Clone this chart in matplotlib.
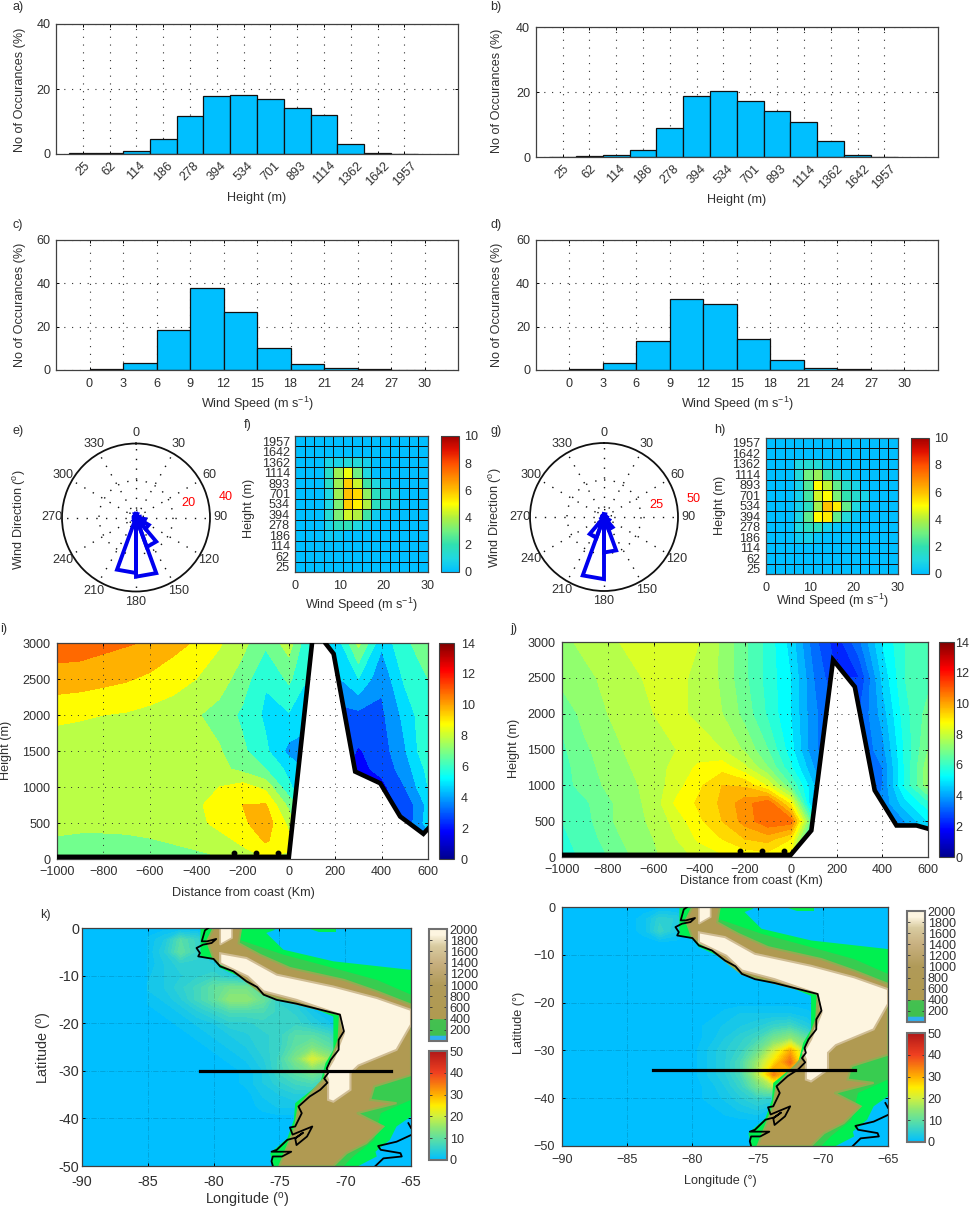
import matplotlib
matplotlib.use("Agg")
import matplotlib.pyplot as plt
import numpy as np
from matplotlib.cm import ScalarMappable
from matplotlib.colors import LinearSegmentedColormap, Normalize

plt.rcParams['font.family'] = ['Liberation Sans', 'DejaVu Sans']
plt.rcParams['mathtext.default'] = 'regular'
plt.rcParams['axes.unicode_minus'] = True

W, H = 970, 1210
TEXT = '#303030'
FRAME = '#404040'
FONT = 9.1
DOTS = (0, (1, 6))

# ---- histograms
HEIGHT_BINS = ['25', '62', '114', '186', '278', '394', '534', '701', '893', '1114', '1362', '1642', '1957']
HEIGHT_A = [0.2, 0.2, 0.8, 4.5, 11.8, 17.9, 18.3, 16.9, 14.2, 12.1, 3.0, 0.4, 0.1]
HEIGHT_B = [0.2, 0.3, 0.6, 2.3, 9.0, 19.0, 20.5, 17.3, 14.3, 10.8, 5.0, 0.8, 0.1]
SPEED_EDGES = [0, 3, 6, 9, 12, 15, 18, 21, 24, 27, 30]
SPEED_C = [0.3, 3.3, 18.3, 37.8, 26.8, 10.0, 3.0, 0.8, 0.3, 0.1]
SPEED_D = [0.3, 3.4, 13.2, 33.0, 30.3, 14.4, 4.5, 1.0, 0.3, 0.1]

# ---- wind roses, 20 degree bins starting at north
ROSE_E = [2, 1, 1, 1, 2, 5, 8, 17, 32, 30, 2, 1, 1, 1, 1, 1, 1, 2]
ROSE_G = [2, 1, 1, 1, 1, 2, 4, 9, 24, 42, 15, 2, 1, 1, 1, 1, 1, 1]
ROSE_ANGLES = list(range(0, 360, 30))

# ---- joint histograms, rows from 1957 m down to 25 m
JOINT_F = [
    [0, 0, 0, 0, 0, 0, 0, 0, 0, 0, 0, 0, 0, 0],
    [0, 0, 0, 0, 0, 0, 0, 0, 0, 0, 0, 0, 0, 0],
    [0, 0, 0, 0.8, 0.8, 1.2, 1.2, 0.7, 0, 0, 0, 0, 0, 0],
    [0, 0, 0, 1.5, 3.7, 4.8, 3.0, 1.0, 0, 0, 0, 0, 0, 0],
    [0, 0, 0, 1.5, 3.7, 5.8, 4.3, 2.2, 1.0, 0.5, 0, 0, 0, 0],
    [0, 0, 0, 1.0, 3.7, 6.0, 5.6, 3.5, 1.7, 1.2, 0.8, 0, 0, 0],
    [0, 0, 0, 1.0, 3.2, 5.8, 5.2, 4.0, 1.7, 1.2, 0.5, 0, 0, 0],
    [0, 0, 0, 1.3, 3.2, 4.4, 4.0, 2.2, 0.5, 0, 0, 0, 0, 0],
    [0, 0, 0, 0.8, 1.7, 1.8, 1.0, 0.4, 0, 0, 0, 0, 0, 0],
    [0, 0, 0, 0.4, 0.3, 0, 0, 0, 0, 0, 0, 0, 0, 0],
    [0, 0, 0, 0, 0, 0, 0, 0, 0, 0, 0, 0, 0, 0],
    [0, 0, 0, 0, 0, 0, 0, 0, 0, 0, 0, 0, 0, 0],
    [0, 0, 0, 0, 0, 0, 0, 0, 0, 0, 0, 0, 0, 0],
]
JOINT_H = [
    [0, 0, 0, 0, 0, 0, 0, 0, 0, 0, 0, 0, 0, 0],
    [0, 0, 0, 0, 0, 0, 0, 0, 0, 0, 0, 0, 0, 0],
    [0, 0, 0, 1.0, 1.3, 1.2, 0.3, 0, 0, 0, 0, 0, 0, 0],
    [0, 0, 0, 1.2, 3.0, 3.6, 2.2, 1.0, 0.3, 0, 0, 0, 0, 0],
    [0, 0, 0, 0.8, 2.5, 5.0, 4.2, 2.8, 1.5, 0.8, 0, 0, 0, 0],
    [0, 0, 0, 0.7, 2.3, 4.4, 5.0, 3.2, 2.0, 1.4, 0.8, 0, 0, 0],
    [0, 0, 0, 0.7, 1.7, 3.8, 6.0, 5.3, 2.8, 1.0, 0.2, 0, 0, 0],
    [0, 0, 0, 0.9, 2.7, 5.0, 5.3, 2.8, 1.2, 0.2, 0, 0, 0, 0],
    [0, 0, 0, 1.0, 1.7, 1.7, 0.6, 0.2, 0, 0, 0, 0, 0, 0],
    [0, 0, 0, 0.5, 0.7, 0.2, 0, 0, 0, 0, 0, 0, 0, 0],
    [0, 0, 0, 0, 0, 0, 0, 0, 0, 0, 0, 0, 0, 0],
    [0, 0, 0, 0, 0, 0, 0, 0, 0, 0, 0, 0, 0, 0],
    [0, 0, 0, 0, 0, 0, 0, 0, 0, 0, 0, 0, 0, 0],
]

# ---- cross sections
SECTION_X = [-1000, -900, -800, -700, -600, -500, -400, -300, -200, -100, 0, 100, 200, 300, 400, 500, 600]
SECTION_Z = [0, 250, 500, 750, 1000, 1250, 1500, 2000, 2500, 3000]
SECTION_I = [
    [6.8, 6.8, 6.8, 6.8, 6.8, 6.8, 6.9, 7.2, 7.8, 8.3, 8.0, 4.0, 3.0, 2.0, 2.0, 2.5, 3.5],
    [7.1, 6.9, 6.9, 7.0, 7.2, 7.4, 7.7, 7.9, 8.5, 9.4, 8.7, 5.0, 3.0, 2.0, 2.0, 2.5, 3.5],
    [7.8, 7.8, 7.8, 7.8, 7.8, 7.8, 8.0, 8.6, 9.1, 9.9, 8.0, 5.0, 3.0, 2.0, 2.0, 2.5, 4.8],
    [7.8, 7.8, 7.8, 7.8, 7.8, 7.8, 8.0, 9.0, 9.3, 9.4, 7.0, 5.0, 3.0, 2.0, 2.0, 2.5, 4.6],
    [7.8, 7.8, 7.8, 7.8, 7.8, 7.8, 7.9, 8.3, 8.7, 8.0, 5.5, 4.0, 3.0, 2.0, 2.0, 3.3, 5.3],
    [7.8, 7.8, 7.8, 7.8, 7.8, 7.8, 7.7, 7.6, 7.0, 6.3, 5.0, 4.0, 3.0, 2.0, 2.6, 3.8, 5.6],
    [7.8, 7.8, 7.8, 7.8, 7.8, 7.8, 7.7, 7.4, 6.5, 5.5, 4.0, 4.0, 3.0, 2.2, 2.8, 4.2, 6.2],
    [8.5, 8.4, 8.3, 8.2, 8.0, 7.7, 7.4, 6.9, 6.1, 5.1, 5.2, 4.5, 3.0, 3.0, 3.1, 4.6, 6.2],
    [9.9, 9.8, 9.6, 9.4, 9.1, 8.8, 8.3, 7.8, 6.8, 5.4, 6.5, 5.0, 4.0, 5.3, 3.5, 5.5, 6.3],
    [10.8, 10.8, 10.6, 10.4, 10.2, 9.6, 9.2, 8.4, 7.6, 6.5, 7.8, 5.0, 4.5, 7.6, 4.5, 6.2, 6.6],
]
SECTION_J = [
    [5.8, 6.1, 6.5, 7.0, 7.4, 7.8, 8.1, 8.4, 8.6, 8.7, 8.4, 5.0, 3.0, 3.0, 3.0, 3.5, 4.0],
    [5.9, 6.2, 6.7, 7.2, 7.5, 8.0, 8.6, 9.0, 9.5, 9.7, 9.0, 5.0, 3.0, 3.0, 3.0, 3.5, 4.5],
    [6.0, 6.3, 6.9, 7.3, 7.6, 8.2, 8.9, 9.5, 10.2, 10.9, 10.8, 6.0, 3.0, 3.0, 3.0, 4.0, 5.0],
    [6.1, 6.4, 6.9, 7.3, 7.7, 8.6, 9.1, 9.6, 10.3, 10.9, 8.8, 4.0, 3.0, 3.0, 3.6, 4.8, 5.8],
    [6.3, 6.7, 7.1, 7.4, 7.7, 8.3, 8.9, 9.5, 9.4, 8.4, 6.5, 4.5, 3.0, 3.0, 3.5, 5.6, 7.3],
    [6.3, 6.8, 7.2, 7.5, 7.7, 8.2, 8.6, 8.8, 8.1, 7.0, 5.6, 4.0, 3.0, 3.0, 3.5, 5.6, 7.3],
    [6.4, 6.9, 7.3, 7.6, 7.9, 8.0, 8.2, 8.0, 7.4, 6.5, 5.2, 3.6, 3.0, 3.0, 3.8, 5.6, 7.0],
    [6.6, 7.2, 7.5, 7.8, 8.0, 8.1, 7.9, 7.5, 6.8, 5.9, 5.0, 3.6, 3.0, 3.0, 4.2, 5.8, 6.7],
    [7.2, 7.4, 7.6, 7.9, 8.1, 8.1, 7.9, 7.4, 6.6, 5.8, 5.0, 3.5, 2.5, 2.5, 4.6, 6.0, 6.3],
    [7.4, 7.6, 7.9, 8.1, 8.2, 8.2, 8.0, 7.4, 6.6, 5.8, 4.8, 3.2, 2.2, 3.4, 5.0, 6.0, 6.2],
]
GROUND_I_X = [-1000, 0, 110, 130, 157, 193, 286, 394, 480, 580, 600]
GROUND_I_Z = [30, 30, 3300, 3300, 3000, 2850, 1214, 1052, 590, 350, 420]
GROUND_J_X = [-1000, 0, 90, 185, 280, 367, 462, 550, 600]
GROUND_J_Z = [30, 30, 370, 2750, 2375, 930, 440, 440, 395]
SITES_I = [-235, -140, -45]
SITES_J = [-220, -127, -30]

# ---- maps: wind field (lon columns, lat rows)
MAP_LON = [-85, -83.75, -82.5, -81.25, -80, -78.75, -77.5, -76.25, -75, -73.75, -72.5, -71.25, -70]
MAP_LAT = [0, -2.5, -5, -7.5, -10, -12.5, -15, -17.5, -20, -22.5, -25, -27.5, -30, -32.5, -35, -37.5, -40, -42.5, -45]
WIND_K = [
    [0, 0, 0, 0, 0, 0, 0, 0, 0, 0, 0, 0, 0],
    [0.8, 3, 9, 6, 0, 0, 0, 0, 0, 0, 0, 0, 0],
    [0.8, 4, 10, 6, 2, 0, 0, 0, 0, 0, 0, 0, 0],
    [0.8, 3, 5, 5, 4, 1, 0, 0, 0, 0, 0, 0, 0],
    [1.5, 3, 4, 5, 6, 4, 1, 0, 0, 0, 0, 0, 0],
    [2, 3, 5, 7, 10, 12, 12, 7, 0, 0, 0, 0, 0],
    [1, 2, 4, 7, 10, 15, 15, 11, 5, 3, 0, 0, 0],
    [0, 1, 2, 4, 6, 8, 8, 8, 6, 5, 2, 0, 0],
    [0, 0, 1, 2, 3, 5, 5, 6, 6, 6, 4, 2, 0],
    [0, 0, 0, 1, 2, 3, 4, 5, 6, 9, 9, 7, 0],
    [0, 0, 0, 0, 1, 2, 3, 5, 6, 10, 13, 10, 4],
    [0, 0, 0, 0, 0, 1, 2, 4, 7, 13, 21, 16, 6],
    [0, 0, 0, 0, 0, 0, 1, 3, 7, 10, 13, 10, 4],
    [0, 0, 0, 0, 0, 0, 1, 3, 5, 7, 8, 5, 0],
    [0, 0, 0, 0, 0, 0, 0, 2, 3, 4, 4, 2, 0],
    [0, 0, 0, 0, 0, 0, 0, 1, 2, 2, 1, 0, 0],
    [0, 0, 0, 0, 0, 0, 0, 0, 0, 0, 0, 0, 0],
    [0, 0, 0, 0, 0, 0, 0, 0, 0, 0, 0, 0, 0],
    [0, 0, 0, 0, 0, 0, 0, 0, 0, 0, 0, 0, 0],
]
WIND_L = [
    [0, 0, 0, 0, 0, 0, 0, 0, 0, 0, 0, 0, 0],
    [0, 1, 5, 4, 0, 0, 0, 0, 0, 0, 0, 0, 0],
    [0, 1, 6, 3, 0, 0, 0, 0, 0, 0, 0, 0, 0],
    [0, 0, 0, 0, 0, 0, 0, 0, 0, 0, 0, 0, 0],
    [0, 0, 0, 0, 0, 0, 0, 0, 0, 0, 0, 0, 0],
    [0, 0, 0, 0, 0, 0, 0, 0, 0, 0, 0, 0, 0],
    [0, 0, 0, 0, 0, 0, 0, 0, 0, 0, 0, 0, 0],
    [0, 0, 0, 0, 0, 0, 0, 0, 0, 0, 0, 0, 0],
    [0, 0, 0, 0, 0, 0, 0, 0, 0, 0, 0, 0, 0],
    [0, 0, 0, 0, 0, 0, 1, 2, 2, 2, 2, 1, 0],
    [0, 0, 0, 0, 0, 1, 2, 3, 4, 6, 7, 4, 0],
    [0, 0, 0, 0, 0, 1, 3, 5, 7, 12, 15, 10, 3],
    [0, 0, 0, 0, 0, 2, 4, 6, 11, 20, 30, 16, 6],
    [0, 0, 0, 0, 0, 2, 4, 8, 16, 26, 36, 18, 8],
    [0, 0, 0, 0, 0, 2, 4, 8, 18, 34, 26, 10, 2],
    [0, 0, 0, 0, 0, 1, 3, 6, 12, 18, 8, 2, 0],
    [0, 0, 0, 0, 0, 1, 2, 4, 6, 5, 1, 0, 0],
    [0, 0, 0, 0, 0, 0, 1, 2, 3, 1, 0, 0, 0],
    [0, 0, 0, 0, 0, 0, 0, 0, 0, 0, 0, 0, 0],
]

# ---- terrain outlines and coast, lon/lat
COAST_LON = [-80.4, -80.66, -80.79, -80.9, -80.5, -79.8, -80.15, -80.8, -81.3, -81.04, -81.17, -80.0, -79.5, -78.5,
             -77.5, -76.7, -76.2, -75.2, -73.7, -72.4, -70.4, -70.1, -70.5, -70.5, -71.1, -71.4, -71.3, -71.6, -71.35,
             -71.9, -72.7, -73.55, -73.3, -73.8, -74.2, -74.0, -72.5, -72.9, -73.7, -73.8, -73.2, -73.7, -74.4, -75.2,
             -75.6, -74.1, -74.8, -75.5, -75.6, -75.5]
COAST_LAT = [0, -0.5, -1.75, -2.8, -2.8, -2.3, -3.15, -3.5, -4.2, -5.26, -5.96, -6.5, -8.06, -9.1,
             -11.2, -12.4, -14.0, -15.1, -15.9, -16.8, -18.2, -21.7, -23.5, -25.6, -27.7, -29.5, -30.5, -31.6, -32.5,
             -34.0, -35.4, -37.5, -38.9, -41.7, -41.9, -43.4, -41.7, -43.8, -45.6, -44.2, -43.0, -44.0, -44.5, -46.6,
             -47.0, -47.0, -48.0, -48.0, -49.0, -50.0]
EAST_COAST_LON = [-67.7, -67.1, -65.7, -65.8, -67.3, -67.5, -66.1, -65.0]
EAST_COAST_LAT = [-50.0, -48.4, -48.0, -47.3, -46.6, -45.8, -44.9, -43.5]
EAST_TIP_LON = [-65.2, -65.0]
EAST_TIP_LAT = [-41.0, -42.0]

WEST_EDGE_LON = [-75.0, -74.2, -73.8, -73.55, -71.6, -70.5, -70.4, -73.7, -76.2, -78.5, -80.0, -80.5]
WEST_EDGE_LAT = [-50.0, -44.5, -41.7, -37.5, -31.6, -23.5, -18.2, -15.9, -14.0, -9.1, -6.5, -2.8]

GREEN_LON = [-81.0, -75.7, -75.3, -76.0, -74.7, -70.9, -65.0, -65.0, -66.1, -66.6, -67.7, -67.6, -69.0, -75.5, -75.7,
             -74.4, -73.9, -73.8, -71.9, -71.5, -70.9, -70.9, -73.7, -76.2, -77.5, -79.5, -80.0, -81.0]
GREEN_LAT = [0, 0, -0.35, -1.05, -4.55, -7.0, -8.8, -39.6, -41.7, -44.5, -47.0, -48.0, -50.0, -50.0, -47.3,
             -44.2, -40.3, -36.8, -32.6, -28.4, -25.6, -18.6, -15.4, -13.7, -10.9, -8.4, -6.7, -6.0]
GREEN_TOP_LON = [-72.9, -70.7, -70.7, -72.0]
GREEN_TOP_LAT = [0, 0, -0.85, -0.85]
MIDGREEN_LON = [-78.0, -74.7, -70.9, -67.6, -65.0, -65.0, -67.3, -67.8, -69.4, -70.1]
MIDGREEN_LAT = [-2.5, -5.6, -8.4, -10.9, -14.0, -36.1, -38.9, -44.5, -48.0, -50.0]
BROWN_LON = [-80.0, -77.9, -78.1, -76.5, -74.2, -70.1, -67.6, -65.0, -65.0, -67.8, -68.1, -66.1, -69.1, -67.1, -68.4,
             -69.9, -70.9]
BROWN_LAT = [0, 0, -3.2, -5.6, -8.4, -10.9, -13.3, -16.1, -30.9, -33.3, -36.1, -36.8, -38.9, -41.7, -45.2,
             -47.3, -50.0]
CREAM_LON = [-79.5, -77.5, -75.2, -70.9, -67.6, -65.0, -65.0, -66.1, -69.0, -69.6, -69.6, -70.9, -71.3, -71.3, -71.5,
             -70.9, -70.1, -70.4, -73.7, -76.2, -77.4, -79.5]
CREAM_LAT = [-5.3, -6.3, -9.8, -12.3, -14.7, -17.2, -20.3, -25.6, -28.9, -30.5, -34.0, -36.5, -36.1, -31.9, -30.5,
             -27.7, -22.1, -18.2, -15.1, -13.3, -10.2, -7.4]
CREAM_TOP_LON = [-79.5, -78.6, -78.6, -79.5]
CREAM_TOP_LAT = [0, 0, -2.1, -3.5]
TRANSECT_K = ([-81.0, -66.5], [-30, -30])
TRANSECT_L = ([-83.0, -67.5], [-34, -34])

JET = LinearSegmentedColormap.from_list('mjet', [
    (0.0, '#00008f'), (0.125, '#0000ff'), (0.375, '#00ffff'),
    (0.625, '#ffff00'), (0.875, '#ff0000'), (1.0, '#800000')])
JOINT_CMAP = LinearSegmentedColormap.from_list('joint', [
    (0.0, '#00bfff'), (0.1, '#20d8e0'), (0.2, '#30e0b0'), (0.3, '#70f080'), (0.4, '#b0f040'), (0.5, '#ffff00'),
    (0.6, '#ffc000'), (0.8, '#ff5000'), (0.9, '#e01000'), (1.0, '#a00000')])
WIND_CMAP = LinearSegmentedColormap.from_list('wind', [
    (0.0, '#00bfff'), (0.1, '#30d0d0'), (0.2, '#60e0a0'), (0.3, '#90e870'), (0.4, '#d0f040'), (0.5, '#ffee00'),
    (0.6, '#ffb000'), (0.8, '#f04020'), (1.0, '#b01818')])
TERRAIN_CMAP = LinearSegmentedColormap.from_list('terr', [
    (0.0, '#30b0f0'), (0.04, '#30b0f0'), (0.05, '#40c050'), (0.19, '#44c050'), (0.2, '#b09a50'),
    (0.5, '#b09a58'), (0.7, '#c8b080'), (0.85, '#d8cba0'), (0.95, '#fdf5e0'), (1.0, '#fdf5e0')])


def add_ax(x0, y0, x1, y1, **kw):
    return fig.add_axes([x0 / W, 1 - y1 / H, (x1 - x0) / W, (y1 - y0) / H], **kw)


def px_text(x, y, s, size=FONT, rotation=0, **kw):
    fig.text(x / W, 1 - y / H, s, fontsize=size, rotation=rotation, color=kw.pop('color', TEXT),
             ha=kw.pop('ha', 'center'), va='center', **kw)


def style_box(ax, size=FONT, grid=True, xpad=5, ypad=4):
    for s in ax.spines.values():
        s.set_color(FRAME)
        s.set_linewidth(0.9)
    ax.tick_params(direction='in', length=2.5, width=0.7, top=True, right=True, labelsize=size,
                   labelcolor=TEXT)
    ax.tick_params(axis='x', pad=xpad)
    ax.tick_params(axis='y', pad=ypad)
    if grid:
        ax.grid(True, linestyle=DOTS, color='#303030', linewidth=0.8)


def height_hist(box, values, xlabel_pos, ylabel_pos):
    ax = add_ax(*box)
    ax.bar(range(1, 14), values, width=1, color='#00bfff', edgecolor='#101010', linewidth=0.9)
    ax.set_xlim(0, 15)
    ax.set_ylim(0, 40)
    ax.set_yticks([0, 20, 40])
    ax.set_xticks(range(1, 14))
    ax.set_xticklabels(HEIGHT_BINS, rotation=45, ha='center', rotation_mode='default')
    style_box(ax, xpad=4)
    ax.set_axisbelow(True)
    px_text(*xlabel_pos, 'Height (m)')
    px_text(*ylabel_pos, 'No of Occurances (%)', rotation=90)


def speed_hist(box, values, xlabel_pos, ylabel_pos):
    ax = add_ax(*box)
    edges = np.array(SPEED_EDGES)
    ax.bar(edges[:-1], values, width=3, align='edge', color='#00bfff', edgecolor='#101010', linewidth=0.9)
    ax.set_xlim(-3, 33)
    ax.set_ylim(0, 60)
    ax.set_yticks([0, 20, 40, 60])
    ax.set_xticks(SPEED_EDGES)
    style_box(ax, xpad=5.5)
    ax.set_axisbelow(True)
    px_text(*xlabel_pos, 'Wind Speed (m s$^{-1}$)')
    px_text(*ylabel_pos, 'No of Occurances (%)', rotation=90)


def rose(centre, values, rmax, inner_label, outer_label, ylabel_pos):
    r_px = 74
    ax = add_ax(centre[0] - r_px, centre[1] - r_px, centre[0] + r_px, centre[1] + r_px, projection='polar')
    ax.set_theta_zero_location('N')
    ax.set_theta_direction(-1)
    ax.set_thetagrids(ROSE_ANGLES, labels=[''] * len(ROSE_ANGLES))
    ax.set_rgrids([rmax * 0.1, rmax * 0.5], labels=['', ''])
    ax.set_rlim(0, rmax)
    ax.grid(True, linestyle=DOTS, color='#101010', linewidth=1.0)
    ax.spines['polar'].set_color('#101010')
    ax.spines['polar'].set_linewidth(1.3)
    for angle in ROSE_ANGLES:
        ax.text(np.radians(angle), rmax * 1.14, str(angle), color=TEXT, fontsize=FONT, ha='center', va='center',
                clip_on=False)
    for i, r in enumerate(values):
        t0, t1 = np.radians(20 * i), np.radians(20 * (i + 1))
        ax.plot([t0, t0, t1, t1], [0, r, r, 0], color='#0000ee', linewidth=2.8, solid_joinstyle='miter', zorder=4)
    for (value, r, angle) in (inner_label, outer_label):
        ax.text(np.radians(angle), r, str(value), color='#ff0000', fontsize=FONT, ha='center', va='center',
                clip_on=False)
    px_text(*ylabel_pos, 'Wind Direction ($^{o}$)', rotation=90)


def joint(box, cbox, values, xlabel_pos, ylabel_pos):
    ax = add_ax(*box)
    rows = np.array(values)[::-1]
    norm = Normalize(0, 10)
    xedges = np.linspace(0, 30, rows.shape[1] + 1)
    yedges = np.arange(rows.shape[0] + 1)
    ax.pcolormesh(xedges, yedges, rows, cmap=JOINT_CMAP, norm=norm, edgecolors='#101010', linewidth=0.7)
    ax.set_xticks([0, 10, 20, 30])
    ax.set_yticks(yedges[:-1] + 0.5)
    ax.set_yticklabels(HEIGHT_BINS)
    style_box(ax, grid=False)
    ax.tick_params(length=0)
    ax.tick_params(axis='x', pad=6)
    cax = add_ax(*cbox)
    cb = fig.colorbar(ScalarMappable(norm, JOINT_CMAP), cax=cax, ticks=[0, 2, 4, 6, 8, 10])
    cb.ax.tick_params(labelsize=FONT, labelcolor=TEXT, length=0, pad=4)
    cb.outline.set_edgecolor(FRAME)
    px_text(*xlabel_pos, 'Wind Speed (m s$^{-1}$)')
    px_text(*ylabel_pos, 'Height (m)', rotation=90)


def section(box, cbox, values, levels, ground_x, ground_z, sites, xlabel_pos, ylabel_pos, cb_pad):
    ax = add_ax(*box)
    norm = Normalize(0, 14)
    ax.contourf(SECTION_X, SECTION_Z, values, levels=levels, cmap=JET, norm=norm, zorder=1)
    ax.fill(list(ground_x) + [600, -1000], list(ground_z) + [-100, -100], color='white', zorder=1.5)
    ax.plot(ground_x, ground_z, color='black', linewidth=3.3, solid_joinstyle='miter', zorder=3)
    ax.plot(sites, [85] * len(sites), 'o', color='black', markersize=3.2, zorder=3)
    ax.set_xlim(-1000, 600)
    ax.set_ylim(0, 3000)
    ax.set_xticks(range(-1000, 601, 200))
    ax.set_yticks(range(0, 3001, 500))
    style_box(ax, xpad=5, ypad=5)
    ax.grid(True, linestyle=DOTS, color='#303030', linewidth=0.7, zorder=2)
    cax = add_ax(*cbox)
    cb = fig.colorbar(ScalarMappable(norm, JET), cax=cax, ticks=range(0, 15, 2))
    cb.ax.tick_params(labelsize=FONT, labelcolor=TEXT, length=0, pad=cb_pad)
    cb.outline.set_edgecolor(FRAME)
    px_text(*xlabel_pos, 'Distance from coast (Km)')
    px_text(*ylabel_pos, 'Height (m)', rotation=90)


def terrain_layers(ax):
    edge_lon, edge_lat = WEST_EDGE_LON, WEST_EDGE_LAT
    ax.fill(GREEN_LON, GREEN_LAT, color='#00f050', linewidth=0, zorder=2)
    ax.fill(GREEN_TOP_LON, GREEN_TOP_LAT, color='#00f050', linewidth=0, zorder=2)
    ax.fill(MIDGREEN_LON + edge_lon, MIDGREEN_LAT + edge_lat, color='#38cc50', linewidth=0, zorder=2.1)
    ax.fill(BROWN_LON + edge_lon, BROWN_LAT + edge_lat, facecolor='#b09a52', edgecolor='#8fae52', linewidth=1.5,
            zorder=2.2)
    ax.fill(CREAM_LON, CREAM_LAT, facecolor='#fdf5e0', edgecolor='#d0bd94', linewidth=1.5, zorder=2.3)
    ax.fill(CREAM_TOP_LON, CREAM_TOP_LAT, facecolor='#fdf5e0', edgecolor='#d0bd94', linewidth=1.2, zorder=2.3)
    ax.plot(COAST_LON, COAST_LAT, color='black', linewidth=1.3, zorder=4)
    ax.plot(EAST_COAST_LON, EAST_COAST_LAT, color='black', linewidth=1.3, zorder=4)
    ax.plot(EAST_TIP_LON, EAST_TIP_LAT, color='black', linewidth=1.3, zorder=4)


def map_panel(box, cbox_top, cbox_low, wind, transect, yticklabels, xticklabels, size, xlabel, ylabel,
              xlabel_pos, ylabel_pos, label_size, xpad, ypad):
    ax = add_ax(*box)
    ax.set_facecolor('#00bfff')
    ax.contourf(MAP_LON, MAP_LAT, wind, levels=np.arange(0.6, 51, 1.2), cmap=WIND_CMAP,
                norm=Normalize(0, 50), zorder=1)
    terrain_layers(ax)
    ax.plot(*transect, color='black', linewidth=2.3, zorder=5)
    ax.set_xlim(-90, -65)
    ax.set_ylim(-50, 0)
    ax.set_xticks(range(-90, -64, 5))
    ax.set_yticks(range(-50, 1, 10))
    ax.set_xticklabels(xticklabels)
    ax.set_yticklabels(yticklabels)
    style_box(ax, size=size, grid=False, xpad=xpad, ypad=ypad)
    ax.grid(True, linestyle='-.', color='black', alpha=0.16, linewidth=0.6, zorder=6)
    for cbox, cmap, top, ticks in ((cbox_top, TERRAIN_CMAP, 2000, range(200, 2001, 200)),
                                   (cbox_low, WIND_CMAP, 50, range(0, 51, 10))):
        cax = add_ax(*cbox)
        cb = fig.colorbar(ScalarMappable(Normalize(0, top), cmap), cax=cax, ticks=list(ticks))
        cb.ax.tick_params(labelsize=FONT, labelcolor=TEXT, direction='in', length=2.5, width=0.6, left=True,
                          right=True, pad=2, color='#303030')
        cb.outline.set_edgecolor('#707070')
        cb.outline.set_linewidth(1.5)
    px_text(*xlabel_pos, xlabel, size=label_size)
    px_text(*ylabel_pos, ylabel, size=label_size, rotation=90)


fig = plt.figure(figsize=(W / 100, H / 100), dpi=100)

height_hist((56, 24, 458, 154), HEIGHT_A, (257, 198), (20, 90))
height_hist((535.7, 27.3, 938, 157.3), HEIGHT_B, (737, 200), (497, 91))
speed_hist((56, 240, 458, 370), SPEED_C, (257, 404), (20, 305))
speed_hist((535.7, 240, 938, 370), SPEED_D, (737, 404), (497, 305))

rose((136, 517.5), ROSE_E, 40, (20, 29.4, 74.3), (40, 49.6, 77.4), (20, 520))
rose((604, 517), ROSE_G, 50, (25, 36.5, 77), (50, 61.5, 78.8), (496, 518))

joint((295.5, 436, 427.7, 572), (441, 436, 459, 572), JOINT_F, (361, 605), (249, 508))
joint((765.7, 437.7, 897.7, 574), (911, 437.7, 929, 574), JOINT_H, (832, 601), (720, 505))

section((57, 643, 428, 859), (439, 643, 454, 859), SECTION_I, np.arange(0.3, 15, 1), GROUND_I_X, GROUND_I_Z,
        SITES_I, (243, 893), (6, 750), 5)
section((562, 642, 928, 857), (939, 642, 954, 857), SECTION_J, np.arange(0, 14.5, 0.5), GROUND_J_X, GROUND_J_Z,
        SITES_J, (751, 881), (514, 748), 1)

map_panel((82, 928, 411, 1166), (429, 929, 447, 1041), (429, 1051, 447, 1160), WIND_K, TRANSECT_K,
          ['-50', '-40', '-30', '-20', '-10', '0'], ['-90', '-85', '-80', '-75', '-70', '-65'], 10.4,
          'Longitude ($^{o}$)', 'Latitude ($^{o}$)', (247, 1201), (45, 1048), 10.4, 6.5, 2)
map_panel((562, 907, 888, 1146), (907, 911, 925, 1022), (907, 1033, 925, 1142), WIND_L, TRANSECT_L,
          ['\u221250', '\u221240', '\u221230', '\u221220', '\u221210', '0'],
          ['\u221290', '\u221285', '\u221280', '\u221275', '\u221270', '\u221265'], FONT,
          'Longitude (\u00b0)', 'Latitude (\u00b0)', (720, 1181), (519, 1023), 9.1, 6, 5)

for lab, x, y in (('a)', 18, 7), ('b)', 496, 7), ('c)', 18, 225), ('d)', 496, 225), ('e)', 18, 431),
                  ('f)', 248, 425), ('g)', 496, 431), ('h)', 720, 430), ('i)', 4, 629), ('j)', 514, 629),
                  ('k)', 45, 915)):
    px_text(x, y, lab)

fig.savefig('out.png', dpi=100)
